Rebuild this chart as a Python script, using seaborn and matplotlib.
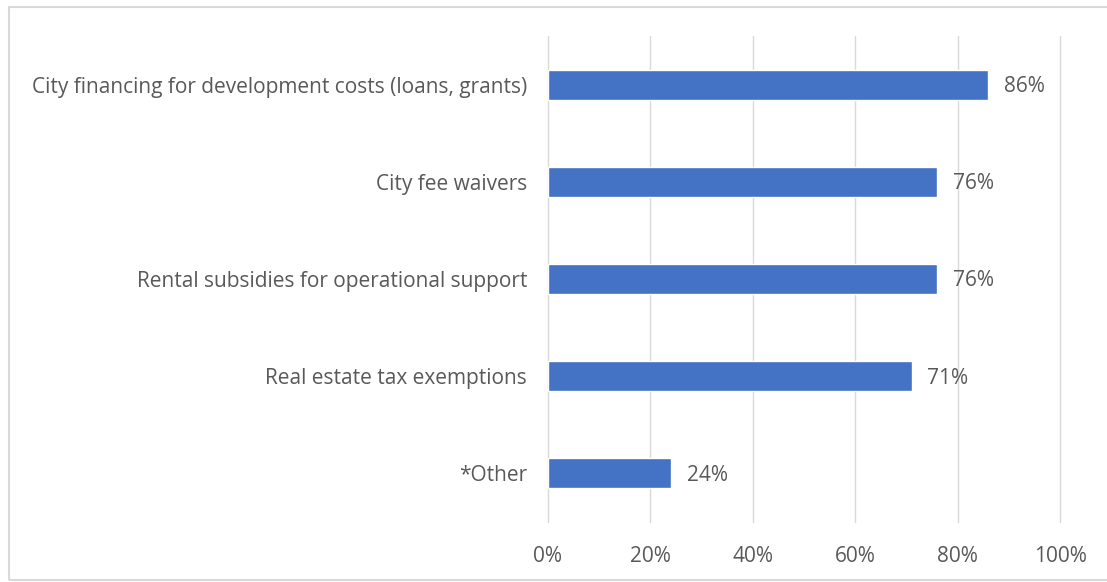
import matplotlib
matplotlib.use("Agg")
import matplotlib.pyplot as plt
import seaborn as sns
import pandas as pd
from matplotlib.patches import Rectangle

categories = [
    "City financing for development costs (loans, grants)",
    "City fee waivers",
    "Rental subsidies for operational support",
    "Real estate tax exemptions",
    "*Other",
]
values = [86, 76, 76, 71, 24]
tick_values = [0, 20, 40, 60, 80, 100]
tick_labels = ["0%", "20%", "40%", "60%", "80%", "100%"]

df = pd.DataFrame({"category": categories, "value": values})

sns.set_style("white")
plt.rcParams["font.family"] = ["Open Sans", "DejaVu Sans"]

fig = plt.figure(figsize=(11.07, 5.82), dpi=100)
ax = fig.add_axes([548 / 1107, 60 / 582, 512 / 1107, 486 / 582])

text_color = "#595959"
fs = 15
sns.barplot(data=df, x="value", y="category", color="#4472C4", saturation=1,
            width=0.31, ax=ax, zorder=3)

ax.set_xlim(0, 100)
ax.set_ylim(4.5, -0.5)
ax.set_xticks(tick_values)
ax.set_xticklabels(tick_labels)
ax.grid(axis="x", color="#d9d9d9", linewidth=1, zorder=0)
ax.grid(axis="y", visible=False)
for line in ax.get_xgridlines():
    line.set_clip_on(False)
for s in ax.spines.values():
    s.set_visible(False)
ax.tick_params(axis="x", length=0, pad=17, labelsize=fs, labelcolor=text_color)
ax.tick_params(axis="y", length=0, pad=15, labelsize=fs, labelcolor=text_color)
ax.set_xlabel("")
ax.set_ylabel("")

for i, v in enumerate(values):
    ax.text(v + 3.1, i + 0.02, f"{v}%", va="center", ha="left", fontsize=fs, color=text_color)

# outer border of the chart area
fig.patches.append(Rectangle((9 / 1107, 2 / 582), 1.2, 573 / 582, transform=fig.transFigure,
                             fill=False, edgecolor="#d9d9d9", linewidth=1.5))

fig.savefig("out.png", dpi=100)
